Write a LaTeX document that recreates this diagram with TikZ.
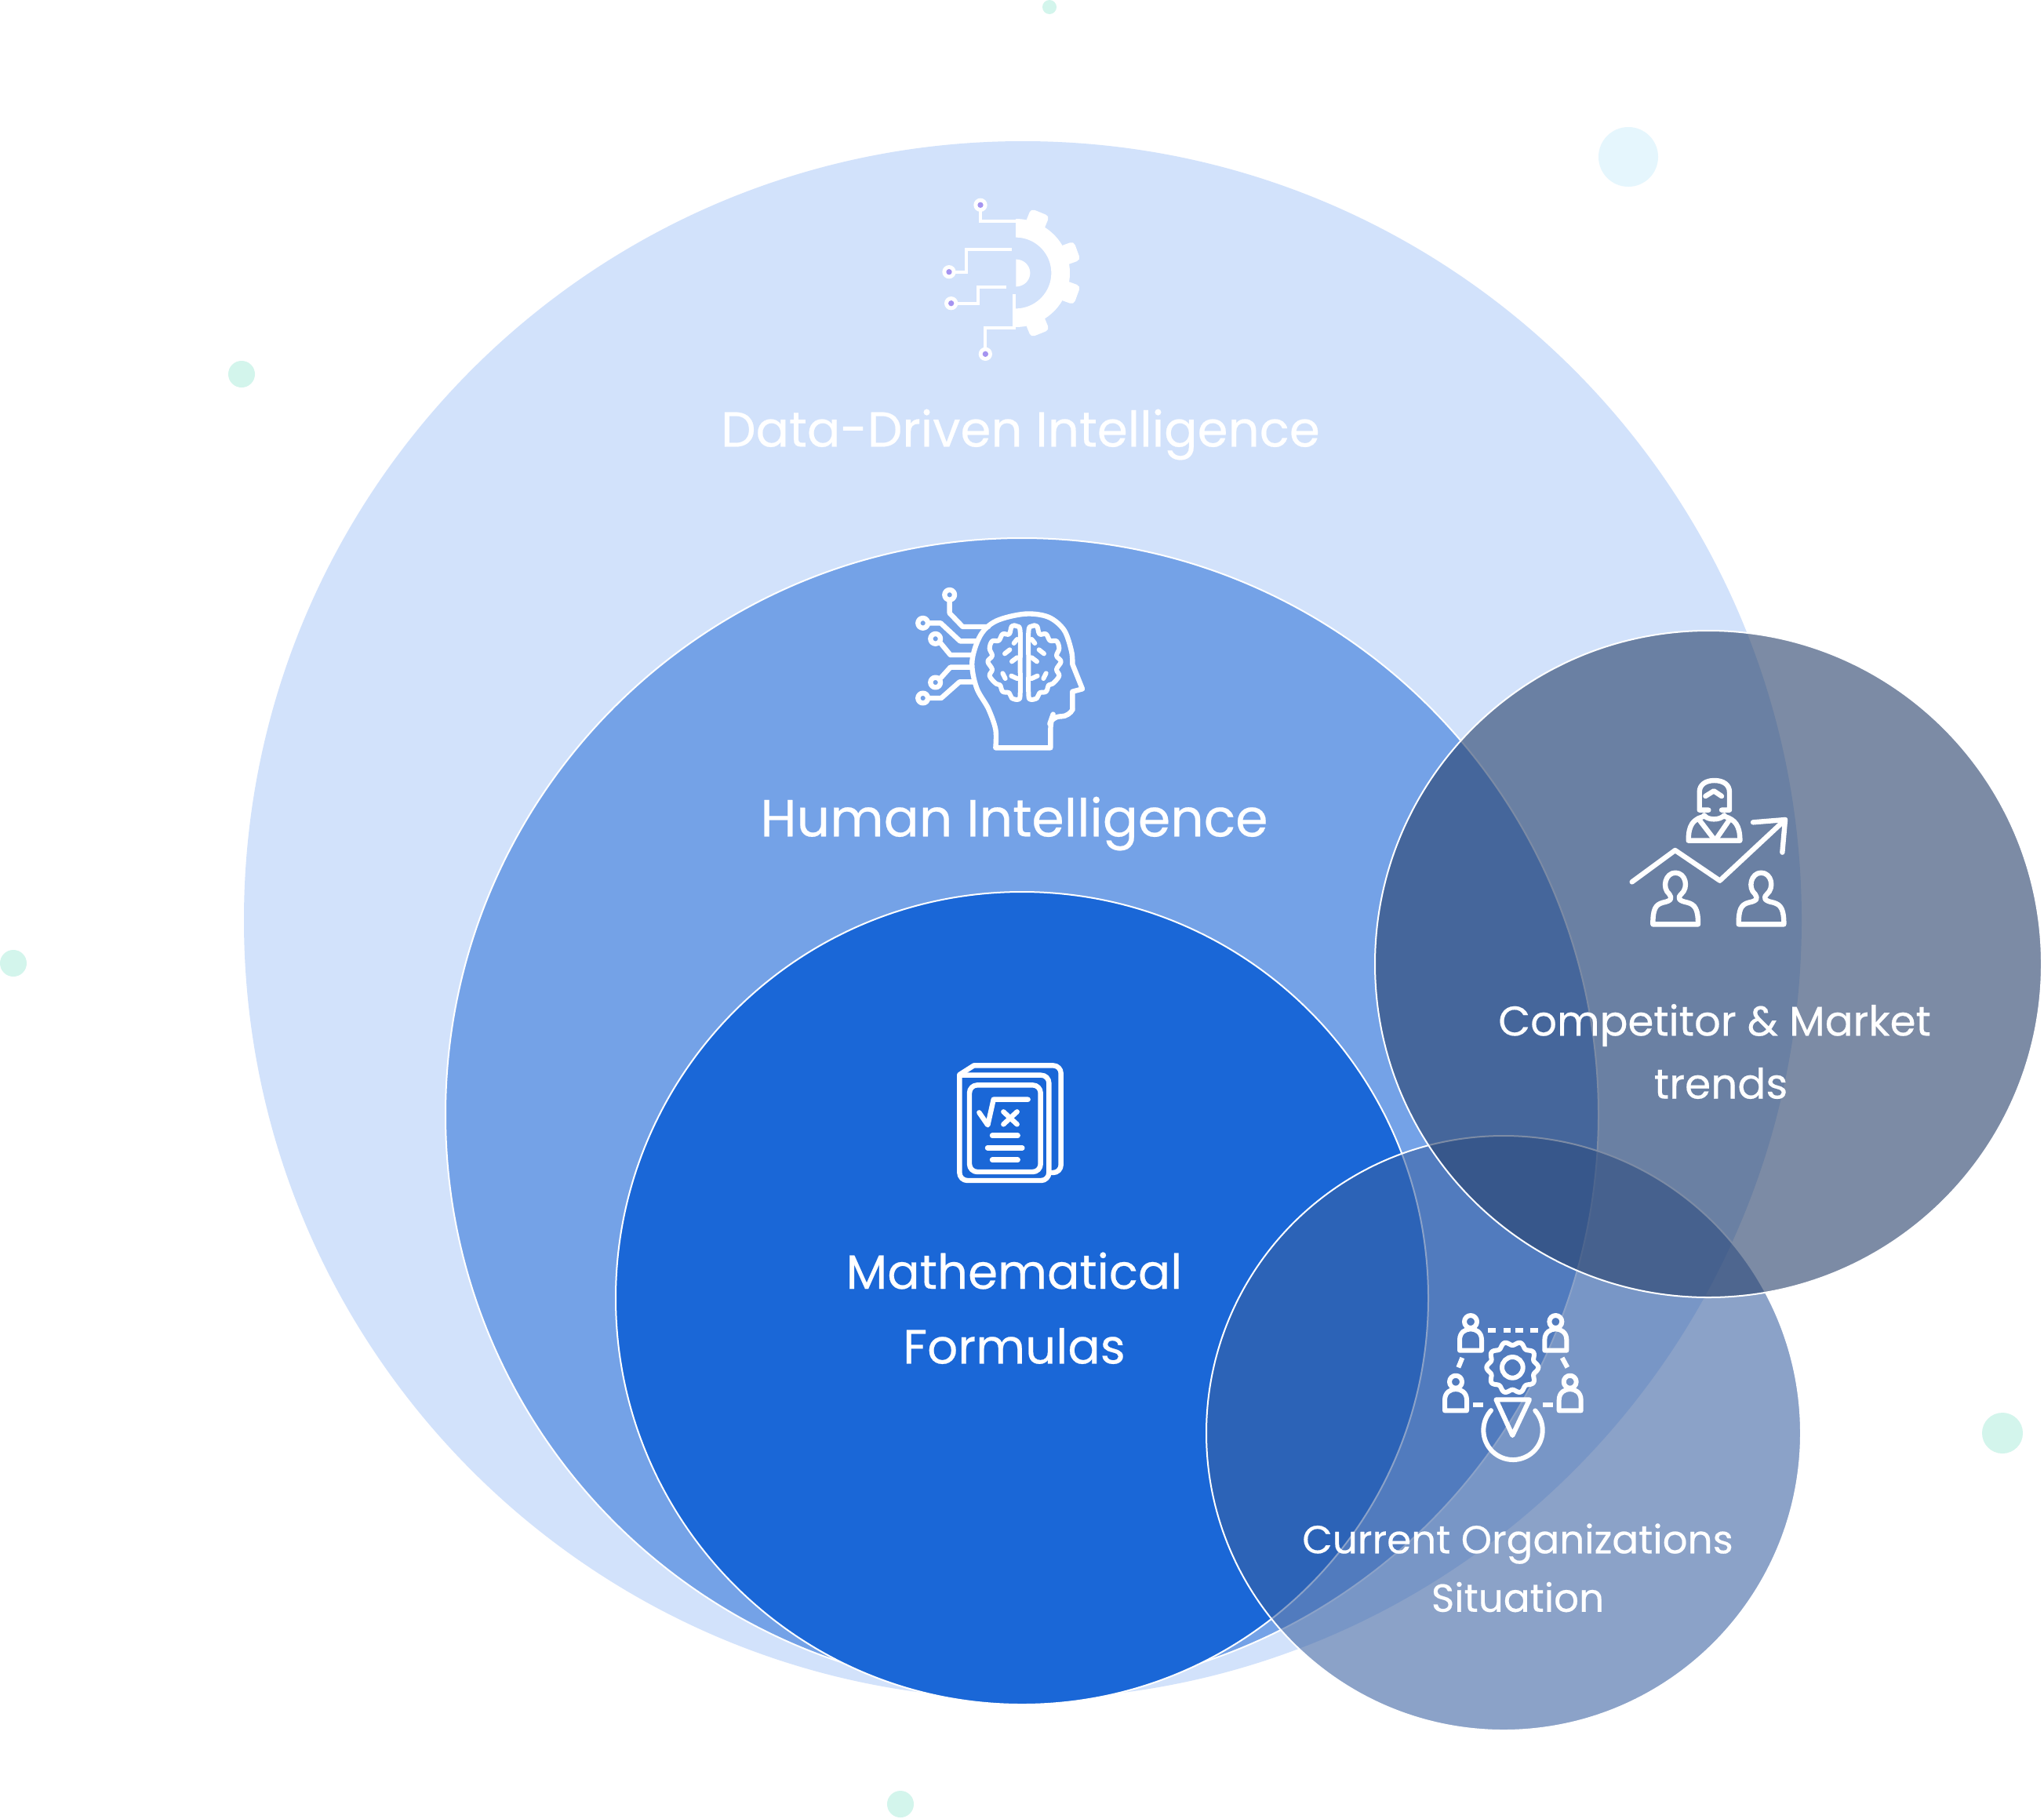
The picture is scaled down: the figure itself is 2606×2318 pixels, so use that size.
\documentclass[tikz,border=0pt]{standalone}
\usepackage{fontspec}
\setmainfont{Poppins}[RawFeature={embolden=0.35}]
\definecolor{bigc}{HTML}{D2E2FB}
\definecolor{humanc}{HTML}{74A2E7}
\definecolor{mathc}{HTML}{1A67D7}
\definecolor{compc}{HTML}{263F69}
\definecolor{currc}{HTML}{3A61A2}
\definecolor{dotg}{HTML}{D3F5EC}
\definecolor{dotb}{HTML}{E5F6FD}
\definecolor{purp}{HTML}{A594F0}
\tikzset{
  rim/.style={draw=white,line width=1pt},
  lab/.style={text=white,inner sep=0pt,anchor=center},
  ico/.style={draw=white,line cap=round,line join=round,line width=#1/5 pt},
  ico/.default=16,
  zoomed/.style={x=0.16667pt,y=-0.16667pt}
}
\begin{document}
\begin{tikzpicture}[x=0.5pt,y=-0.5pt]
\useasboundingbox (0,0) rectangle (2606,2318);
\fill[white] (0,0) rectangle (2606,2318);
% background dots
\fill[dotg] (1338,9) circle[radius=9];
\fill[dotb] (2076,200) circle[radius=38];
\fill[dotg] (308,477) circle[radius=17];
\fill[dotg] (17,1228) circle[radius=17];
\fill[dotg] (2553,1827) circle[radius=26];
\fill[dotg] (1148,2300) circle[radius=17];
% nested circles
\fill[bigc] (1304,1173) circle[radius=993];
\path[fill=humanc,rim] (1303,1421) circle[radius=735];
\path[fill=mathc,rim] (1303,1655) circle[radius=518];
\path[fill=currc,fill opacity=.59,rim] (1917,1827) circle[radius=379];
\path[fill=compc,fill opacity=.6,rim] (2178,1229) circle[radius=425];
% labels
\node[lab,font=\fontsize{31.4}{31}\selectfont] (ddi) at (1301,554) {Data-Driven Intelligence};
\node[lab,font=\fontsize{33.3}{33}\selectfont] (hum) at (1293,1050) {Human Intelligence};
\node[lab,font=\fontsize{30.6}{31}\selectfont] (math1) at (1293,1620) {Mathematical};
\node[lab,font=\fontsize{30.6}{31}\selectfont] (math2) at (1293,1716) {Formulas};
\node[lab,font=\fontsize{26.5}{27}\selectfont] (comp1) at (2186,1307) {Competitor \& Market};
\node[lab,font=\fontsize{26.7}{27}\selectfont] (comp2) at (2194,1381) {trends};
\node[lab,font=\fontsize{25}{25}\selectfont] (curr1) at (1935,1968) {Current Organizations};
\node[lab,font=\fontsize{25}{25}\selectfont] (curr2) at (1935,2036) {Situation};
% gear icon
\begin{scope}[shift={(1170,230)},zoomed]
  \fill[white] plot[domain=-90:90,samples=50] ({375+207*cos(\x)},{354+207*sin(\x)}) -- plot[domain=90:-90,samples=50] ({375+136*cos(\x)},{354+136*sin(\x)}) -- cycle;
  \foreach \a in {68,20,-20,-68}{
    \fill[white,shift={(375,354)},rotate=\a,rounded corners=2.5pt] (190,-38) rectangle (250,38);
  }
  \fill[white] plot[domain=-90:90,samples=30] ({376+54*cos(\x)},{354+52*sin(\x)}) -- cycle;
  \draw[ico=10,line cap=butt,line join=miter] (240,94) -- (240,157) -- (378,157);
  \draw[ico=10,line cap=butt,line join=miter] (120,350) -- (187,350) -- (187,264) -- (360,264);
  \draw[ico=10,line cap=butt,line join=miter] (128,470) -- (231,470) -- (231,407) -- (340,407);
  \draw[ico=10,line cap=butt,line join=miter] (259,664) -- (259,565) -- (370,565) -- (370,434);
  \foreach \p in {(240,94),(120,350),(128,470),(259,664)}{
    \fill[white] \p circle[radius=26];
    \fill[purp] \p circle[radius=11];
  }
\end{scope}
% brain icon
\begin{scope}[shift={(1150,730)},zoomed]
  \draw[ico] plot[smooth,tension=.55] coordinates {(358,670) (358,600) (330,520) (285,440) (268,340) (300,240) (360,185) (470,158) (560,170) (620,220) (648,300) (652,350)} -- (690,445) -- (652,455) -- (652,525) [rounded corners=5pt] -- (640,550) -- (575,550) -- (568,570) [sharp corners] -- (568,670) -- cycle;
  \foreach \p/\q in {182/85,80/193,128/253,128/420,80/480}{
    \draw[ico] (\p,\q) circle[radius=19];
  }
  \draw[ico] (182,108) -- (182,155) -- (232,207) -- (330,207);
  \draw[ico] (105,193) -- (148,193) -- (222,262) -- (285,262);
  \draw[ico] (148,270) -- (185,315) -- (265,315);
  \draw[ico] (148,403) -- (185,362) -- (265,362);
  \draw[ico] (105,480) -- (150,480) -- (220,418) -- (275,418);
  \foreach \m/\s in {0/1,936/-1}{
    \begin{scope}[shift={(\m,0)},xscale=\s]
      \draw[ico=15] plot[smooth cycle,tension=.6] coordinates {(452,225) (440,205) (420,205) (410,235) (385,235) (370,260) (345,262) (335,290) (345,318) (328,340) (345,370) (335,395) (360,425) (375,430) (385,455) (410,460) (420,480) (445,485) (452,465) (452,350)};
      \draw[ico=15] (428,270) -- (440,255);
      \draw[ico=15] (393,310) -- (412,295);
      \draw[ico=15] (420,340) -- (440,325);
      \draw[ico=15] (418,395) -- (440,405);
      \draw[ico=15] (385,385) -- (395,405);
    \end{scope}
  }
\end{scope}
% formula icon
\begin{scope}[shift={(1200,1340)},zoomed]
  \draw[ico] (70,90) -- (125,55) [rounded corners=5pt] -- (458,55) -- (458,465) -- (420,465);
  \draw[ico,rounded corners=5pt] (70,92) -- (412,92) -- (412,495) -- (70,495) [sharp corners] -- cycle;
  \draw[ico,rounded corners=5pt] (108,130) rectangle (380,462);
  \draw[ico] (145,235) -- (178,283) -- (200,185) -- (332,185);
  \draw[ico] (238,232) -- (290,280);
  \draw[ico] (290,232) -- (238,280);
  \draw[ico] (195,323) -- (293,323);
  \draw[ico] (177,370) -- (310,370);
  \draw[ico] (195,416) -- (293,416);
\end{scope}
% competitor icon
\begin{scope}[shift={(2060,980)},zoomed]
  \draw[ico] (355,158) -- (320,158) -- (320,90) .. controls (320,60) and (345,45) .. (377,45) .. controls (410,45) and (435,60) .. (435,90) -- (435,158) -- (405,158);
  \draw[ico] (343,105) -- (375,85) -- (405,105);
  \draw[ico] (338,178) .. controls (350,198) and (400,198) .. (415,178);
  \draw[ico] (335,183) .. controls (295,195) and (278,215) .. (278,275) -- (475,275) .. controls (475,215) and (455,195) .. (418,183);
  \draw[ico] (315,190) -- (380,275) -- (435,195);
  \draw[ico] (62,433) -- (227,312) -- (398,428) -- (648,195);
  \draw[ico] (525,205) -- (648,195) -- (637,320);
  \foreach \d in {0,328}{
    \draw[ico,shift={(\d,0)}] (142,595) .. controls (142,540) and (150,520) .. (180,512) .. controls (215,505) and (215,495) .. (205,480) .. controls (175,455) and (190,398) .. (228,398) .. controls (268,398) and (280,455) .. (250,480) .. controls (235,495) and (240,505) .. (275,512) .. controls (305,520) and (315,540) .. (315,595) -- cycle;
  }
\end{scope}
% organisation icon
\begin{scope}[shift={(1820,1660)},zoomed]
  \foreach \cx/\cy in {165/75,490/75,108/305,545/305}{
    \draw[ico=15] (\cx,\cy) circle[radius=24];
    \draw[ico=15] (\cx-42,\cy+110) -- (\cx-42,\cy+70) .. controls (\cx-42,\cy+40) and (\cx-20,\cy+28) .. (\cx,\cy+28) .. controls (\cx+20,\cy+28) and (\cx+42,\cy+40) .. (\cx+42,\cy+70) -- (\cx+42,\cy+110) -- cycle;
  }
  \foreach \a/\b in {232/262,290/318,335/365,392/422}{
    \draw[ico=15,line cap=butt] (\a,107) -- (\b,107);
  }
  \draw[ico=15,line cap=butt] (133,213) -- (118,250);
  \draw[ico=15,line cap=butt] (515,213) -- (535,250);
  \draw[ico=15,line cap=butt] (175,393) -- (213,393);
  \draw[ico=15,line cap=butt] (442,393) -- (480,393);
  \draw[ico=15] plot[domain=0:360,samples=121,smooth] ({325+(92+7*cos(10*\x))*cos(\x)},{250+(92+7*cos(10*\x))*sin(\x)}) -- cycle;
  \draw[ico=15] (325,250) circle[radius=40];
  \draw[ico=15] (262,373) -- (390,373) -- (325,510) -- cycle;
  \draw[ico=15] plot[domain=-41.5:222,samples=60] ({327+113*cos(\x)},{490+113*sin(\x)});
\end{scope}
\end{tikzpicture}
\end{document}
